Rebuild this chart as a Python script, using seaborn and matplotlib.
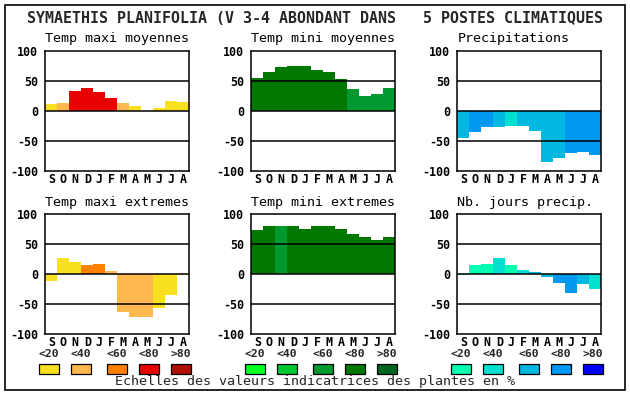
import matplotlib
matplotlib.use("Agg")
import matplotlib.pyplot as plt
import pandas as pd
import seaborn as sns
from matplotlib.patches import Rectangle

months = ["S", "O", "N", "D", "J", "F", "M", "A", "M", "J", "J", "A"]
class_labels = ["<20", "<40", "<60", "<80", ">80"]

tmax_moy = [11, 12, 33, 37, 31, 21, 12, 7, 0, 4, 16, 14]
tmax_moy_cls = [0, 1, 3, 3, 3, 3, 1, 0, 0, 0, 0, 0]

tmin_moy = [54, 65, 73, 74, 74, 68, 64, 52, 36, 24, 27, 37]
tmin_moy_cls = [3, 3, 3, 3, 3, 3, 3, 3, 2, 2, 2, 2]

precip = [-46, -36, -27, -27, -26, -26, -34, -86, -78, -71, -68, -73]
precip_cls = [2, 3, 3, 2, 1, 2, 2, 2, 2, 3, 3, 3]

tmax_ext = [-11, 27, 21, 16, 17, 6, -63, -72, -71, -57, -34, -2]
tmax_ext_cls = [0, 0, 0, 2, 2, 1, 1, 1, 1, 0, 0, 0]

tmin_ext = [74, 81, 81, 81, 76, 81, 81, 76, 67, 62, 57, 62]
tmin_ext_cls = [3, 3, 2, 3, 3, 3, 3, 3, 3, 3, 3, 3]

njours = [-2, 16, 17, 27, 16, 7, 4, -5, -15, -32, -17, -24]
njours_cls = [0, 0, 0, 1, 0, 1, 2, 2, 3, 3, 2, 1]

# colour scales (one per column of panels)
warm = ["#f8e020", "#ffb850", "#ff8000", "#e80000", "#b01000"]
green = ["#00ff20", "#00c830", "#009a30", "#007800", "#006420"]
blue = ["#00ffb0", "#00e0d0", "#00b8e0", "#0098f0", "#0000f8"]

panels = [
    ("Temp maxi moyennes", tmax_moy, tmax_moy_cls, warm),
    ("Temp mini moyennes", tmin_moy, tmin_moy_cls, green),
    ("Precipitations", precip, precip_cls, blue),
    ("Temp maxi extremes", tmax_ext, tmax_ext_cls, warm),
    ("Temp mini extremes", tmin_ext, tmin_ext_cls, green),
    ("Nb. jours precip.", njours, njours_cls, blue),
]

sns.set_theme(style="white")
plt.rcParams["font.family"] = ["DejaVu Sans Mono", "DejaVu Sans"]

W, H = 630, 394
fig = plt.figure(figsize=(W / 100, H / 100), dpi=100)
fig.patch.set_facecolor("white")

col_left = [45.3, 251.3, 457.3]
row_top = [50.7, 214.3]
aw, ah = 144, 120

for i, (title, vals, cls, pal) in enumerate(panels):
    r, c = divmod(i, 3)
    left, top = col_left[c], row_top[r]
    ax = fig.add_axes([left / W, 1 - (top + ah) / H, aw / W, ah / H])
    df = pd.DataFrame({"pos": range(len(months)), "val": vals,
                       "col": [pal[k] for k in cls]})
    sns.barplot(data=df, x="pos", y="val", hue="pos",
                palette=list(df["col"]), width=1.0, saturation=1,
                legend=False, ax=ax, linewidth=0, zorder=1)
    for yv in (50, 0, -50):
        ax.axhline(yv, color="black", lw=1.1, zorder=3)
    ax.set_ylim(-100, 100)
    ax.set_xlim(-0.5, 11.5)
    ax.set_yticks([100, 50, 0, -50, -100])
    ax.set_yticklabels(["100", "50", "0", "-50", "-100"],
                       fontweight="bold", fontsize=8.4)
    ax.set_xticks(range(len(months)))
    ax.set_xticklabels(months, fontweight="bold", fontsize=8.4)
    ax.tick_params(axis="both", length=0, pad=1.5, colors="black")
    ax.tick_params(axis="y", pad=5)
    ax.set_xlabel("")
    ax.set_ylabel("")
    for sp in ax.spines.values():
        sp.set_visible(True)
        sp.set_color("black")
        sp.set_linewidth(1.1)
        sp.set_zorder(4)
    fig.text(left / W, 1 - (top - 12) / H, title, fontsize=9.6,
             ha="left", va="center", color="black")

    if r == 1:
        for k, lab in enumerate(class_labels):
            bx = left - 6 + [0, 32, 68, 100, 132][k]
            fig.text((bx + 10) / W, 1 - 354 / H, lab, fontsize=8.2,
                     fontweight="bold", ha="center", va="center")
            fig.patches.append(Rectangle((bx / W, 1 - 373.5 / H), 20 / W, 9.5 / H,
                                         transform=fig.transFigure,
                                         facecolor=pal[k], edgecolor="black",
                                         lw=0.9))

fig.text(26.7 / W, 1 - 18.5 / H,
         "SYMAETHIS PLANIFOLIA (V 3-4 ABONDANT DANS   5 POSTES CLIMATIQUES",
         fontsize=10.8, fontweight="bold", ha="left", va="center")
fig.text(315 / W, 1 - 382 / H,
         "Echelles des valeurs indicatrices des plantes en %",
         fontsize=9.6, ha="center", va="center")

fig.patches.append(Rectangle((5 / W, 1 - 390 / H), 620 / W, 385 / H,
                             transform=fig.transFigure, fill=False,
                             edgecolor="black", lw=1.2))

plt.savefig("out.png", dpi=100)
plt.clf()
